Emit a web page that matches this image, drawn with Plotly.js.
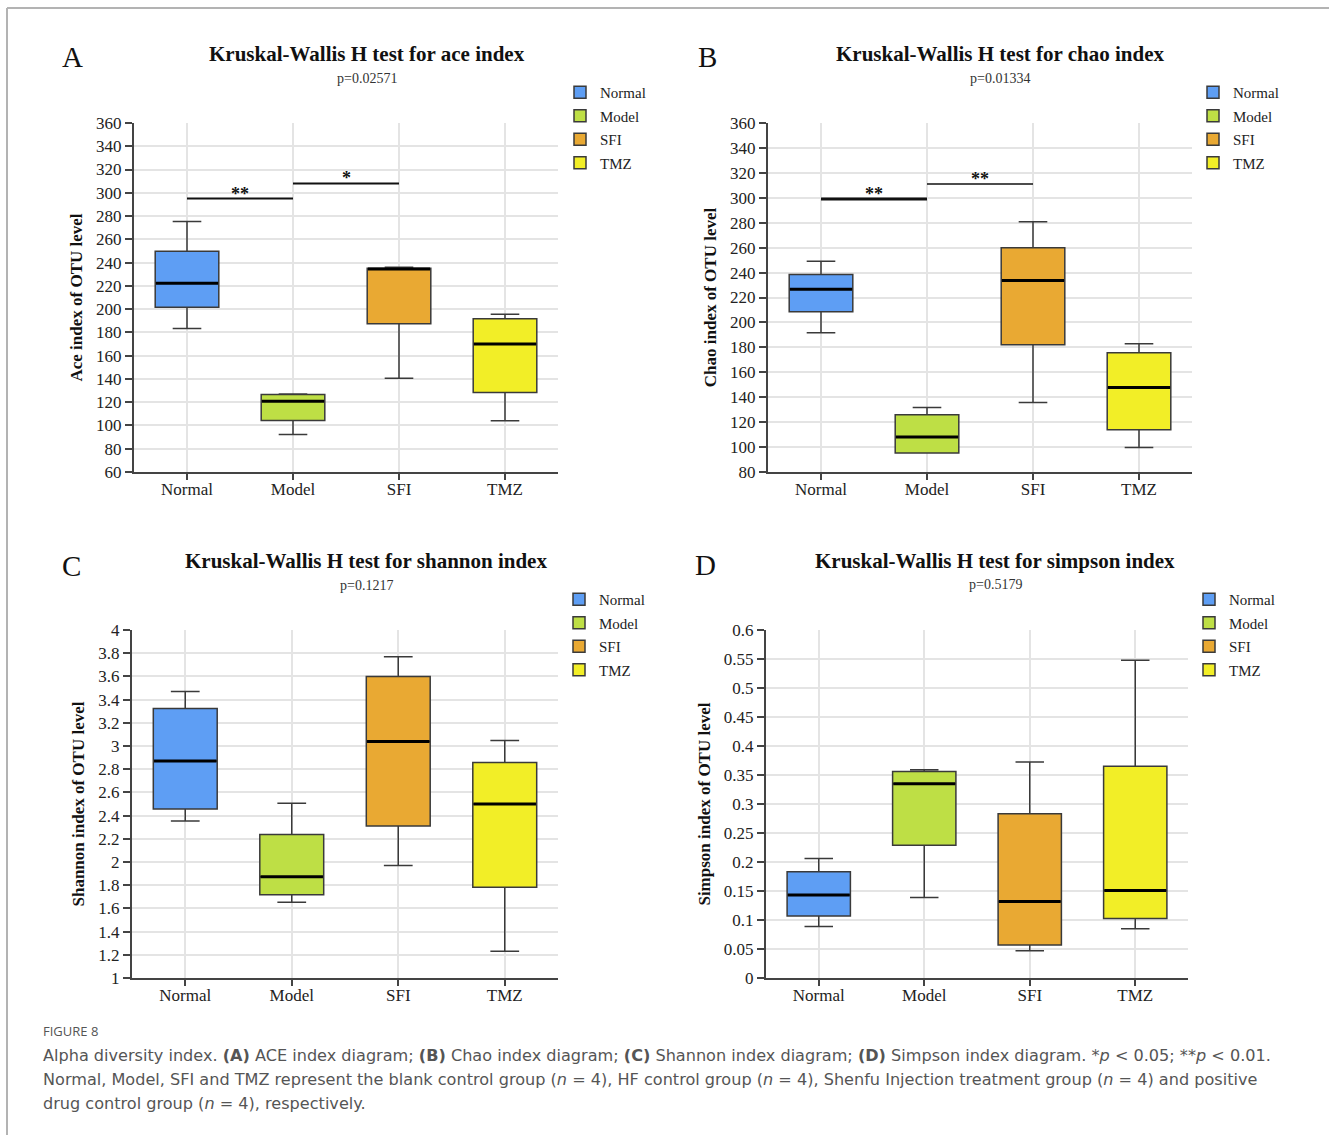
<!DOCTYPE html>
<html>
<head>
<meta charset="utf-8">
<script src="https://cdn.plot.ly/plotly-3.0.1.min.js"></script>
<style>
html,body{margin:0;padding:0;background:#fff;}
#chart{width:1329px;height:1135px;}
</style>
</head>
<body>
<div id="chart"></div>
<script>
// ---------- DATA ----------
const groups = ['Normal', 'Model', 'SFI', 'TMZ'];

// ACE index
const aceUpper  = [275.4, 127.1, 236.0, 195.7];
const aceQ3     = [249.7, 126.6, 235.1, 191.7];
const aceMedian = [222.3, 120.9, 234.6, 170.0];
const aceQ1     = [201.7, 104.3, 187.4, 128.3];
const aceLower  = [183.4,  92.3, 140.6, 104.0];
const acePvalue = 'p=0.02571';
const aceSigFrom  = ['Normal', 'Model'];
const aceSigTo    = ['Model', 'SFI'];
const aceSigY     = [295, 308];
const aceSigLabel = ['**', '*'];

// Chao index
const chaoUpper  = [249.1, 131.7, 280.8, 182.9];
const chaoQ3     = [238.4, 125.9, 260.0, 175.7];
const chaoMedian = [226.7, 108.0, 233.6, 147.7];
const chaoQ1     = [208.5,  95.2, 182.1, 113.9];
const chaoLower  = [191.7,  95.2, 135.7,  99.7];
const chaoPvalue = 'p=0.01334';
const chaoSigFrom  = ['Normal', 'Model'];
const chaoSigTo    = ['Model', 'SFI'];
const chaoSigY     = [299, 311];
const chaoSigLabel = ['**', '**'];

// Shannon index
const shannonUpper  = [3.470, 2.506, 3.770, 3.047];
const shannonQ3     = [3.323, 2.238, 3.600, 2.857];
const shannonMedian = [2.871, 1.872, 3.038, 2.500];
const shannonQ1     = [2.457, 1.717, 2.310, 1.783];
const shannonLower  = [2.353, 1.653, 1.970, 1.230];
const shannonPvalue = 'p=0.1217';

// Simpson index
const simpsonUpper  = [0.206, 0.359, 0.3725, 0.548];
const simpsonQ3     = [0.183, 0.356, 0.283, 0.365];
const simpsonMedian = [0.143, 0.335, 0.132, 0.151];
const simpsonQ1     = [0.107, 0.229, 0.057, 0.1026];
const simpsonLower  = [0.089, 0.139, 0.047, 0.085];
const simpsonPvalue = 'p=0.5179';

// ---------- STYLE / LAYOUT ----------
const W = 1329, H = 1135;
const px = v => v / W;
const py = v => 1 - v / H;
const SERIF = 'Liberation Serif, Times New Roman, serif';
const fills = ['#5e9ef4', '#bedf45', '#e9a933', '#f2ee27'];
const edge = '#3a3a3a';

const panels = [
  {key:'A', title:'Kruskal-Wallis H test for ace index', p:acePvalue, ytitle:'Ace index of OTU level',
   upper:aceUpper, q3:aceQ3, med:aceMedian, q1:aceQ1, lower:aceLower,
   sigFrom:aceSigFrom, sigTo:aceSigTo, sigY:aceSigY, sigLabel:aceSigLabel, sigWidth:[2, 2],
   xd:[134, 558], yd:[123, 472], yr:[60, 360], dt:20, t0:60,
   titleX:367, titleY:54, pY:78, letterX:72, letterY:57, legX:560, legY:76},
  {key:'B', title:'Kruskal-Wallis H test for chao index', p:chaoPvalue, ytitle:'Chao index of OTU level',
   upper:chaoUpper, q3:chaoQ3, med:chaoMedian, q1:chaoQ1, lower:chaoLower,
   sigFrom:chaoSigFrom, sigTo:chaoSigTo, sigY:chaoSigY, sigLabel:chaoSigLabel, sigWidth:[3, 1.5],
   xd:[768, 1192], yd:[123, 472], yr:[80, 360], dt:20, t0:80,
   titleX:1000, titleY:54, pY:78, letterX:707, letterY:57, legX:1193, legY:76},
  {key:'C', title:'Kruskal-Wallis H test for shannon index', p:shannonPvalue, ytitle:'Shannon index of OTU level',
   upper:shannonUpper, q3:shannonQ3, med:shannonMedian, q1:shannonQ1, lower:shannonLower,
   sigFrom:[], sigTo:[], sigY:[], sigLabel:[], sigWidth:[],
   xd:[132, 558], yd:[630, 978], yr:[1, 4], dt:0.2, t0:1,
   titleX:366, titleY:561, pY:585, letterX:71, letterY:566, legX:559, legY:583},
  {key:'D', title:'Kruskal-Wallis H test for simpson index', p:simpsonPvalue, ytitle:'Simpson index of OTU level',
   upper:simpsonUpper, q3:simpsonQ3, med:simpsonMedian, q1:simpsonQ1, lower:simpsonLower,
   sigFrom:[], sigTo:[], sigY:[], sigLabel:[], sigWidth:[],
   xd:[766, 1188], yd:[630, 978], yr:[0, 0.6], dt:0.05, t0:0,
   titleX:995, titleY:561, pY:584, letterX:705, letterY:565, legX:1189, legY:583}
];

const traces = [];
const shapes = [];
const annotations = [];
const layout = {
  width: W, height: H,
  margin: {l:0, r:0, t:0, b:0, autoexpand:false},
  paper_bgcolor: '#ffffff',
  plot_bgcolor: '#ffffff',
  showlegend: true,
  boxmode: 'overlay',
  font: {family: SERIF, color: '#222'}
};

panels.forEach((P, k) => {
  const n = k + 1;
  const xa = n === 1 ? 'x' : 'x' + n;
  const ya = n === 1 ? 'y' : 'y' + n;
  const xk = n === 1 ? 'xaxis' : 'xaxis' + n;
  const yk = n === 1 ? 'yaxis' : 'yaxis' + n;
  const lg = n === 1 ? 'legend' : 'legend' + n;

  groups.forEach((g, i) => {
    traces.push({
      type: 'box', name: g, x: [g],
      q1: [P.q1[i]], median: [P.med[i]], q3: [P.q3[i]],
      lowerfence: [P.lower[i]], upperfence: [P.upper[i]],
      xaxis: xa, yaxis: ya, legend: lg, legendgroup: P.key + g,
      fillcolor: fills[i], line: {color: edge, width: 1.5},
      width: 0.6, whiskerwidth: 0.45, boxpoints: false,
      hoverinfo: 'y'
    });
    // thick median bar
    shapes.push({type:'line', xref:xa, yref:ya, x0:i - 0.293, x1:i + 0.293,
      y0:P.med[i], y1:P.med[i], line:{color:'#000', width:3}});
  });

  layout[xk] = {
    domain: [px(P.xd[0]), px(P.xd[1])], anchor: ya,
    type: 'category', categoryorder: 'array', categoryarray: groups,
    range: [-0.5, 3.5], fixedrange: true,
    showline: true, linecolor: '#444', linewidth: 2,
    ticks: 'outside', ticklen: 6, tickwidth: 2, tickcolor: '#444',
    ticklabelstandoff: -5,
    showgrid: true, gridcolor: '#e4e4e4', gridwidth: 1.5, zeroline: false,
    tickfont: {family: SERIF, size: 17, color: '#222'}, automargin: false
  };
  layout[yk] = {
    domain: [py(P.yd[1]), py(P.yd[0])], anchor: xa,
    range: P.yr, tick0: P.t0, dtick: P.dt, fixedrange: true,
    showline: true, linecolor: '#444', linewidth: 2,
    ticks: 'outside', ticklen: 7, tickwidth: 2, tickcolor: '#444',
    showgrid: true, gridcolor: '#e4e4e4', gridwidth: 1.5, zeroline: false,
    tickfont: {family: SERIF, size: 17, color: '#222'}, automargin: false,
    title: {text: '<b>' + P.ytitle + '</b>', font: {family: SERIF, size: 17, color: '#111'}, standoff: 9}
  };
  layout[lg] = {
    x: px(P.legX), y: py(P.legY), xanchor: 'left', yanchor: 'top',
    xref: 'paper', yref: 'paper',
    font: {family: SERIF, size: 15, color: '#222'},
    bgcolor: 'rgba(0,0,0,0)', borderwidth: 0,
    traceorder: 'grouped', tracegroupgap: 1, itemclick: false, itemdoubleclick: false
  };

  // significance brackets
  P.sigFrom.forEach((a, j) => {
    const i0 = groups.indexOf(a), i1 = groups.indexOf(P.sigTo[j]);
    shapes.push({type:'line', xref:xa, yref:ya, x0:i0, x1:i1, y0:P.sigY[j], y1:P.sigY[j],
      line:{color:'#111', width:P.sigWidth[j]}});
    annotations.push({xref:xa, yref:ya, x:(i0 + i1) / 2, y:P.sigY[j], text:'<b>' + P.sigLabel[j] + '</b>',
      showarrow:false, xanchor:'center', yanchor:'middle', yshift:5,
      font:{family:SERIF, size:18, color:'#111'}});
  });

  // titles
  annotations.push({xref:'paper', yref:'paper', x:px(P.titleX), y:py(P.titleY), text:'<b>' + P.title + '</b>',
    showarrow:false, xanchor:'center', yanchor:'middle', font:{family:SERIF, size:21, color:'#111'}});
  annotations.push({xref:'paper', yref:'paper', x:px(P.titleX), y:py(P.pY), text:P.p,
    showarrow:false, xanchor:'center', yanchor:'middle', font:{family:SERIF, size:14, color:'#333'}});
  annotations.push({xref:'paper', yref:'paper', x:px(P.letterX), y:py(P.letterY), text:P.key,
    showarrow:false, xanchor:'center', yanchor:'middle', font:{family:SERIF, size:29, color:'#111'}});
});

// frame lines of the figure box
shapes.push({type:'line', xref:'paper', yref:'paper', x0:px(7), x1:1, y0:py(8), y1:py(8), line:{color:'#b3b3b3', width:2}});
shapes.push({type:'line', xref:'paper', yref:'paper', x0:px(7), x1:px(7), y0:py(8), y1:0, line:{color:'#b3b3b3', width:2}});

// caption
const SANS = 'DejaVu Sans, Open Sans, sans-serif';
const captionLines = [
  'Alpha diversity index. <b>(A)</b> ACE index diagram; <b>(B)</b> Chao index diagram; <b>(C)</b> Shannon index diagram; <b>(D)</b> Simpson index diagram. *<i>p</i> &lt; 0.05; **<i>p</i> &lt; 0.01.',
  'Normal, Model, SFI and TMZ represent the blank control group (<i>n</i> = 4), HF control group (<i>n</i> = 4), Shenfu Injection treatment group (<i>n</i> = 4) and positive',
  'drug control group (<i>n</i> = 4), respectively.'
];
annotations.push({xref:'paper', yref:'paper', x:px(41), y:py(1031), text:'FIGURE 8', showarrow:false,
  xanchor:'left', yanchor:'middle', font:{family:'Open Sans, sans-serif', size:13, color:'#555'}});
captionLines.forEach((t, i) => {
  annotations.push({xref:'paper', yref:'paper', x:px(41), y:py(1055 + i * 24.3), text:t, showarrow:false,
    xanchor:'left', yanchor:'middle', font:{family:SANS, size:16.1, color:'#555'}});
});

layout.shapes = shapes;
layout.annotations = annotations;

Plotly.newPlot('chart', traces, layout, {displayModeBar:false, staticPlot:false, responsive:false});
</script>
</body>
</html>
